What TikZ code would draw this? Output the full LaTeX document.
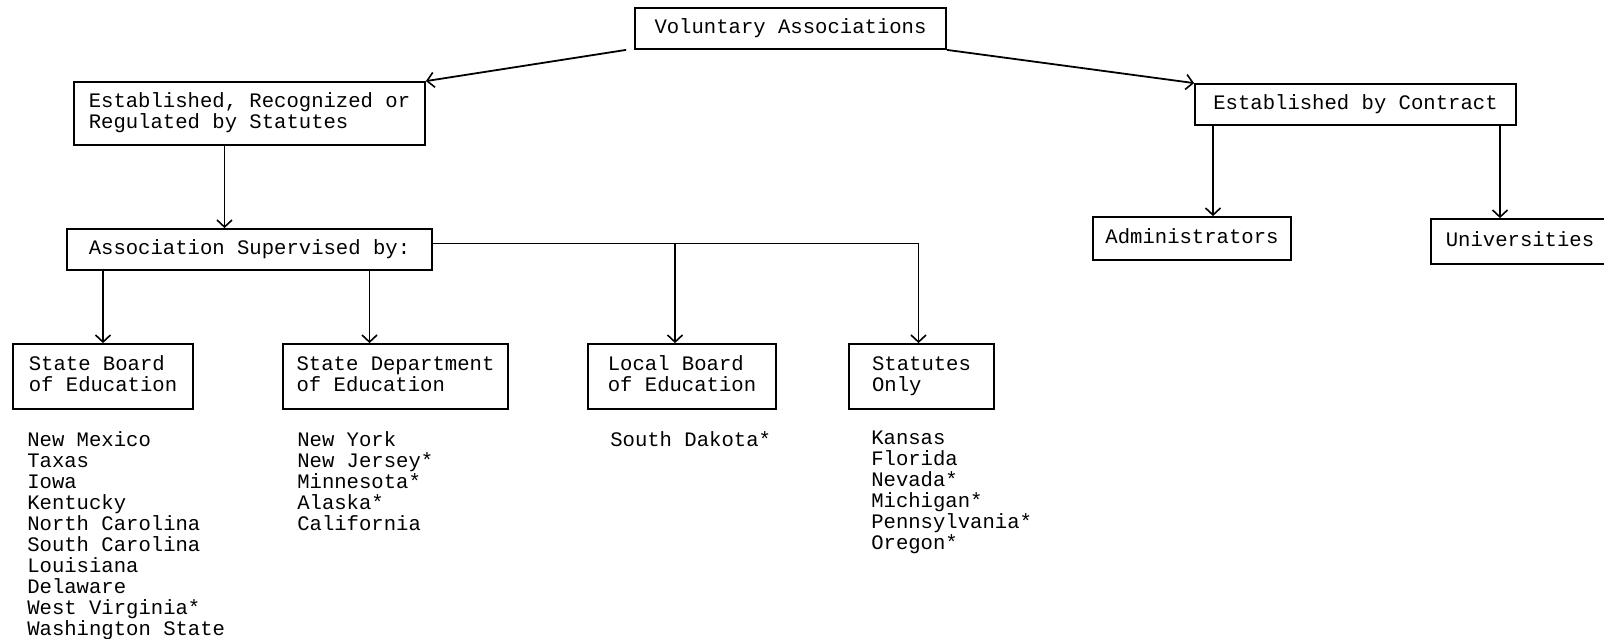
\documentclass[tikz,border=0pt]{standalone}
\usepackage{fontspec}
\usetikzlibrary{arrows.meta}
\newfontfamily\typewr{Liberation Mono}
\newcommand{\boxfont}{\typewr\fontsize{20.6}{21}\selectfont}
\tikzset{block/.style = {rectangle, draw, line width=1.8pt, align=left, font=\boxfont,
		minimum height=41pt, inner sep=0pt, text depth=5pt},
	list/.style     = {anchor=north west, align=left, font=\boxfont, inner sep=0pt},
	line/.style     = {draw, line width=1.8pt, -{Straight Barb[length=7pt,width=15pt,line width=1.6pt]}}
}

\begin{document}
\begin{tikzpicture}[x=1pt, y=1pt, node distance = 100pt]
		\useasboundingbox (0,0) rectangle (1604,-639);
		\node [block, minimum width=311pt] (vol) at (790.5,-28.5) {Voluntary Associations};
		\node [block, minimum width=351pt, minimum height=63pt] (est) at (249.5,-113.5) {Established, Recognized or\\Regulated by Statutes};
		\node [block, minimum width=321pt] (con) at (1355.5,-104.5) {Established by Contract};
		\node [block, minimum width=365pt, below of=est, node distance=136pt] (sup) {Association Supervised by:};
		\node [block, minimum width=198pt, minimum height=43pt] (adm) at (1192,-238.5) {Administrators};
		\node [block, minimum width=178pt, minimum height=45pt, right of=adm, node distance=328pt, yshift=-3pt] (uni) {Universities};
		% supervising bodies
		\node [block, minimum width=180pt, minimum height=65pt] (sbe) at (103,-376.5) {State Board\\of Education};
		\node [block, minimum width=225pt, minimum height=65pt, right of=sbe, node distance=292.5pt] (sde) {State Department\\of Education};
		\node [block, minimum width=188pt, minimum height=65pt, right of=sde, node distance=286.5pt] (lbe) {Local Board\\of Education};
		\node [block, minimum width=145pt, minimum height=65pt, right of=lbe, node distance=239.5pt] (sto) {Statutes\\Only};
		% states
		\node [list] (sbelist) at ([xshift=15pt,yshift=-21pt]sbe.south west) {New Mexico\\Taxas\\Iowa\\Kentucky\\North Carolina\\South Carolina\\Louisiana\\Delaware\\West Virginia*\\Washington State};
		\node [list] (sdelist) at ([xshift=15pt,yshift=-21pt]sde.south west) {New York\\New Jersey*\\Minnesota*\\Alaska*\\California};
		\node [list] (lbelist) at ([xshift=23pt,yshift=-21pt]lbe.south west) {South Dakota*};
		\node [list] (stolist) at ([xshift=23pt,yshift=-21pt]sto.south west) {Kansas\\Florida\\Nevada*\\Michigan*\\Pennsylvania*\\Oregon*};
		% connectors
		\coordinate (estout) at ([xshift=-25pt]est.south);
		\coordinate (sdein) at ([xshift=-26pt]sde.north);
		\coordinate (lbein) at ([xshift=-7pt]lbe.north);
		\coordinate (stoin) at ([xshift=-3pt]sto.north);
		\coordinate (supout) at ([yshift=6pt]sup.east);
		\coordinate (admin) at ([xshift=21pt]adm.north);
		\coordinate (uniin) at ([xshift=-20pt]uni.north);
		\path[line] ([xshift=-8pt]vol.south west) -- (est.north east);
		\path[line] (vol.south east) -- (con.north west);
		\path[line] (estout) -- (estout |- sup.north);
		\path[line] (sup.south -| sbe.north) -- (sbe.north);
		\path[line] (sup.south -| sdein) -- (sdein);
		\draw[line width=1.8pt] (supout) -- (supout -| stoin);
		\path[line] (supout -| lbein) -- (lbein);
		\path[line] (supout -| stoin) -- (stoin);
		\path[line] (con.south -| admin) -- (admin);
		\path[line] (con.south -| uniin) -- (uniin);
	\end{tikzpicture}
\end{document}
